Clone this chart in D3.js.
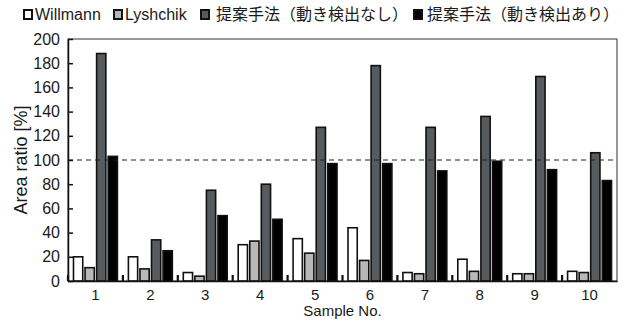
<!DOCTYPE html>
<html>
<head>
<meta charset="utf-8">
<script src="https://cdn.jsdelivr.net/npm/d3@7"></script>
<style>
  body { margin: 0; background: #fff; }
  text { font-family: "Liberation Sans", Arial, "Noto Sans CJK JP", sans-serif; fill: #1a1a1a; }
</style>
</head>
<body>
<div id="chart"></div>
<script>
// Data
const samples = ['1', '2', '3', '4', '5', '6', '7', '8', '9', '10'];
const seriesNames = ['Willmann', 'Lyshchik', '提案手法（動き検出なし）', '提案手法（動き検出あり）'];
const willmann = [20, 20, 7, 30, 35, 44, 7, 18, 6, 8];
const lyshchik = [11, 10, 4, 33, 23, 17, 6, 8, 6, 7];
const noMotion = [188, 34, 75, 80, 127, 178, 127, 136, 169, 106];
const withMotion = [103, 25, 54, 51, 97, 97, 91, 99, 92, 83];
const yTicks = [0, 20, 40, 60, 80, 100, 120, 140, 160, 180, 200];
const refLine = 100;

const colors = ['#ffffff', '#b8b8b8', '#575b5e', '#000000'];
const allSeries = [willmann, lyshchik, noMotion, withMotion];

function drawChart() {
    const W = 628, H = 324;
    const margin = { top: 39, right: 11, bottom: 43, left: 68 };
    const width = W - margin.left - margin.right;
    const height = H - margin.top - margin.bottom;

    const svg = d3.select("#chart")
        .append("svg")
        .attr("width", W)
        .attr("height", H);

    const g = svg.append("g")
        .attr("transform", `translate(${margin.left},${margin.top})`);

    const x = d3.scaleBand()
        .domain(samples)
        .range([0, width])
        .paddingInner(0.2)
        .paddingOuter(0.1);

    const xInner = d3.scaleBand()
        .domain(d3.range(4))
        .range([0, x.bandwidth()])
        .paddingInner(0.2);

    const y = d3.scaleLinear()
        .domain([0, 200])
        .range([height, 0]);

    // plot frame
    g.append("rect")
        .attr("x", 0).attr("y", 0)
        .attr("width", width).attr("height", height)
        .attr("fill", "none")
        .attr("stroke", "#333")
        .attr("stroke-width", 1);

    // bars
    const rows = samples.map((s, i) => ({ sample: s, values: allSeries.map(a => a[i]) }));
    const groups = g.selectAll(".grp")
        .data(rows)
        .enter().append("g")
        .attr("class", "grp")
        .attr("transform", d => `translate(${x(d.sample)},0)`);

    groups.selectAll("rect")
        .data(d => d.values.map((v, k) => ({ k, v })))
        .enter().append("rect")
        .attr("x", d => xInner(d.k))
        .attr("y", d => y(d.v))
        .attr("width", xInner.bandwidth())
        .attr("height", d => height - y(d.v))
        .attr("fill", d => colors[d.k])
        .attr("stroke", "#111")
        .attr("stroke-width", 1.6);

    // dashed reference line
    g.append("line")
        .attr("x1", 0).attr("x2", width)
        .attr("y1", y(refLine)).attr("y2", y(refLine))
        .attr("stroke", "#222")
        .attr("stroke-width", 1)
        .attr("stroke-dasharray", "5,4");

    // y axis
    const yAxis = g.append("g")
        .call(d3.axisLeft(y).tickValues(yTicks).tickSizeInner(-5).tickSizeOuter(0).tickPadding(8));
    yAxis.select(".domain").attr("stroke", "#111").attr("stroke-width", 1.5);
    yAxis.selectAll(".tick line").attr("stroke", "#111").attr("stroke-width", 1.5);
    yAxis.selectAll("text").style("font-size", "16px").attr("fill", "#1a1a1a");

    // x axis: labels centred on groups, ticks at group boundaries
    const xAxis = g.append("g")
        .attr("transform", `translate(0,${height})`)
        .call(d3.axisBottom(x).tickSize(0).tickPadding(8));
    xAxis.select(".domain").attr("stroke", "#111").attr("stroke-width", 1.5);
    xAxis.selectAll("text").style("font-size", "15px").attr("fill", "#1a1a1a");

    const step = x.step();
    g.selectAll(".xtick")
        .data(samples)
        .enter().append("line")
        .attr("class", "xtick")
        .attr("x1", d => x(d) - step * 0.1)
        .attr("x2", d => x(d) - step * 0.1)
        .attr("y1", height)
        .attr("y2", height - 6)
        .attr("stroke", "#111")
        .attr("stroke-width", 2.2);

    // axis titles
    svg.append("text")
        .attr("transform", `translate(27,${margin.top + height / 2}) rotate(-90)`)
        .attr("text-anchor", "middle")
        .style("font-size", "18px")
        .text("Area ratio [%]");

    svg.append("text")
        .attr("x", margin.left + width / 2)
        .attr("y", 316)
        .attr("text-anchor", "middle")
        .style("font-size", "15px")
        .text("Sample No.");

    // legend
    const swatchX = [23, 113, 200, 413];
    const labelX = [35, 125, 216, 427];
    const legend = svg.append("g");
    seriesNames.forEach((name, k) => {
        legend.append("rect")
            .attr("x", swatchX[k] + 1)
            .attr("y", 10)
            .attr("width", 8)
            .attr("height", 9)
            .attr("fill", colors[k])
            .attr("stroke", "#111")
            .attr("stroke-width", 2);
        legend.append("text")
            .attr("x", labelX[k])
            .attr("y", 20)
            .style("font-size", "16px")
            .text(name);
    });
}

drawChart();
</script>
</body>
</html>
